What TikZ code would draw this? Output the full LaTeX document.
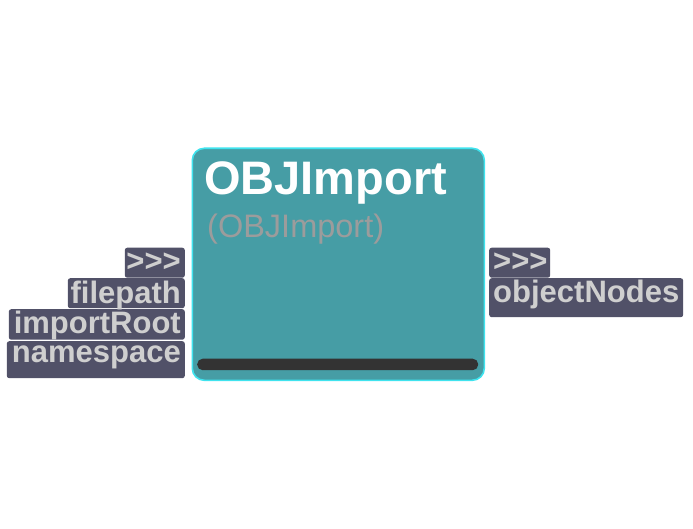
\documentclass[tikz,border=0pt]{standalone}
\usepackage{fontspec}
\setmainfont{Liberation Sans}
\definecolor{nodefill}{HTML}{469DA5}
\definecolor{nodeedge}{HTML}{3FE3EE}
\definecolor{portfill}{HTML}{515168}
\definecolor{porttext}{HTML}{CFCFCF}
\definecolor{subtext}{HTML}{9C9C9C}
\definecolor{barfill}{HTML}{333333}
\tikzset{
  portbg/.style={fill=portfill, draw=none, rounded corners=2.5pt, inner sep=0pt},
  porttxt/.style={text=porttext, font=\fontsize{31}{31}\selectfont\bfseries, inner sep=0pt},
  mainbox/.style={fill=nodefill, draw=nodeedge, line width=1.6pt, rounded corners=12pt, inner sep=0pt},
}
\begin{document}
\begin{tikzpicture}[x=1pt,y=1pt]
\useasboundingbox (0,0) rectangle (693,-529);
% main node body
\node[mainbox, anchor=north west, minimum width=292pt, minimum height=232pt] (main) at (191.5,-147.5) {};
\node[fill=barfill, rounded corners=5.5pt, inner sep=0pt, anchor=north west, minimum width=281pt, minimum height=11.5pt] (bar) at (197,-358.5) {};
\node[text=white, font=\fontsize{47}{47}\selectfont\bfseries, inner sep=0pt, anchor=base west] (title) at (204,-195) {OBJImport};
\node[text=subtext, font=\fontsize{32.5}{32.5}\selectfont, inner sep=0pt, anchor=base west] (sub) at (207,-238) {(OBJImport)};
% input port backgrounds
\node[portbg, anchor=north east, minimum width=60pt, minimum height=30pt] (bgA) at (185,-247.5) {};
\node[portbg, anchor=north east, minimum width=117pt, minimum height=30pt] (bgB) at (185,-278) {};
\node[portbg, anchor=north east, minimum width=176pt, minimum height=30.5pt] (bgC) at (185,-309) {};
\node[portbg, anchor=north east, minimum width=178pt, minimum height=37pt] (bgD) at (185,-341) {};
% input port labels
\node[porttxt, anchor=base east] (inA) at (181,-272) {{>}{>}{>}};
\node[porttxt, anchor=base east] (inB) at (181,-303) {filepath};
\node[porttxt, anchor=base east] (inC) at (181,-333) {importRoot};
\node[porttxt, anchor=base east] (inD) at (181,-362) {namespace};
% output port backgrounds
\node[portbg, anchor=north west, minimum width=61pt, minimum height=30pt] (bgE) at (489,-247.5) {};
\node[portbg, anchor=north west, minimum width=194pt, minimum height=39pt] (bgF) at (489,-278) {};
% output port labels
\node[porttxt, anchor=base west] (outA) at (493,-272) {{>}{>}{>}};
\node[porttxt, anchor=base west] (outB) at (493,-302) {objectNodes};
\end{tikzpicture}
\end{document}
